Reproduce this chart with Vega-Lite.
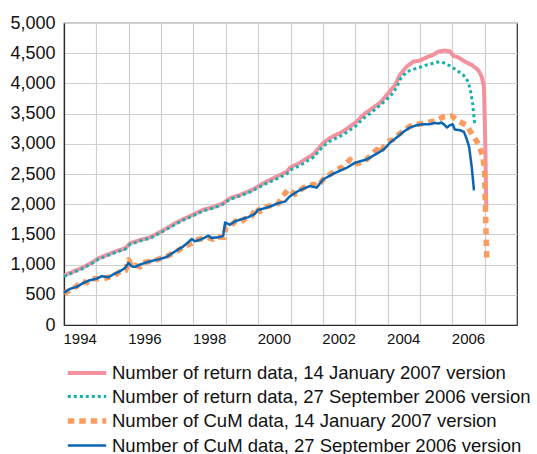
{
  "$schema": "https://vega.github.io/schema/vega-lite/v6.json",
  "width": 453,
  "height": 302,
  "autosize": {"type": "none"},
  "padding": {"left": 64, "top": 23, "right": 20, "bottom": 129},
  "background": "white",
  "config": {
    "font": "Liberation Sans",
    "view": {"stroke": "#2b2b2b", "strokeWidth": 1.2}
  },
  "datasets": {
    "names": [
      {"k": "a", "series": "Number of return data, 14 January 2007 version"},
      {"k": "b", "series": "Number of return data, 27 September 2006 version"},
      {"k": "c", "series": "Number of CuM data, 14 January 2007 version"},
      {"k": "d", "series": "Number of CuM data, 27 September 2006 version"}
    ],
    "pts": [
      {"k":"a","x":1994.0,"y":819},{"k":"a","x":1994.29,"y":885},{"k":"a","x":1994.6,"y":956},{"k":"a","x":1994.91,"y":1049},{"k":"a","x":1995.06,"y":1104},{"k":"a","x":1995.32,"y":1159},{"k":"a","x":1995.63,"y":1225},{"k":"a","x":1995.89,"y":1269},{"k":"a","x":1996.04,"y":1352},{"k":"a","x":1996.35,"y":1407},{"k":"a","x":1996.66,"y":1451},{"k":"a","x":1996.97,"y":1540},{"k":"a","x":1997.17,"y":1600},{"k":"a","x":1997.43,"y":1681},{"k":"a","x":1997.69,"y":1753},{"k":"a","x":1998.0,"y":1830},{"k":"a","x":1998.3,"y":1907},{"k":"a","x":1998.61,"y":1951},{"k":"a","x":1998.92,"y":2016},{"k":"a","x":1999.13,"y":2099},{"k":"a","x":1999.44,"y":2154},{"k":"a","x":1999.75,"y":2220},{"k":"a","x":1999.99,"y":2291},{"k":"a","x":2000.26,"y":2374},{"k":"a","x":2000.57,"y":2456},{"k":"a","x":2000.88,"y":2538},{"k":"a","x":2001.01,"y":2614},{"k":"a","x":2001.29,"y":2686},{"k":"a","x":2001.7,"y":2823},{"k":"a","x":2002.01,"y":3014},{"k":"a","x":2002.22,"y":3096},{"k":"a","x":2002.63,"y":3206},{"k":"a","x":2002.84,"y":3288},{"k":"a","x":2003.02,"y":3354},{"k":"a","x":2003.25,"y":3480},{"k":"a","x":2003.46,"y":3562},{"k":"a","x":2003.77,"y":3680},{"k":"a","x":2003.97,"y":3806},{"k":"a","x":2004.23,"y":3972},{"k":"a","x":2004.38,"y":4139},{"k":"a","x":2004.59,"y":4278},{"k":"a","x":2004.8,"y":4361},{"k":"a","x":2005.0,"y":4378},{"k":"a","x":2005.21,"y":4433},{"k":"a","x":2005.41,"y":4472},{"k":"a","x":2005.57,"y":4528},{"k":"a","x":2005.77,"y":4544},{"k":"a","x":2005.93,"y":4528},{"k":"a","x":2006.03,"y":4456},{"k":"a","x":2006.18,"y":4433},{"k":"a","x":2006.39,"y":4361},{"k":"a","x":2006.6,"y":4306},{"k":"a","x":2006.8,"y":4222},{"k":"a","x":2006.91,"y":4111},{"k":"a","x":2006.98,"y":3944},{"k":"a","x":2007.02,"y":3000},{"k":"a","x":2007.05,"y":1960},
      {"k":"b","x":1994.0,"y":805},{"k":"b","x":1994.29,"y":870},{"k":"b","x":1994.6,"y":940},{"k":"b","x":1994.91,"y":1035},{"k":"b","x":1995.06,"y":1090},{"k":"b","x":1995.32,"y":1145},{"k":"b","x":1995.63,"y":1210},{"k":"b","x":1995.89,"y":1255},{"k":"b","x":1996.04,"y":1335},{"k":"b","x":1996.35,"y":1392},{"k":"b","x":1996.66,"y":1436},{"k":"b","x":1996.97,"y":1522},{"k":"b","x":1997.17,"y":1584},{"k":"b","x":1997.43,"y":1665},{"k":"b","x":1997.69,"y":1737},{"k":"b","x":1998.0,"y":1812},{"k":"b","x":1998.3,"y":1890},{"k":"b","x":1998.61,"y":1935},{"k":"b","x":1998.92,"y":2000},{"k":"b","x":1999.13,"y":2082},{"k":"b","x":1999.44,"y":2137},{"k":"b","x":1999.75,"y":2203},{"k":"b","x":1999.99,"y":2270},{"k":"b","x":2000.26,"y":2345},{"k":"b","x":2000.57,"y":2420},{"k":"b","x":2000.88,"y":2500},{"k":"b","x":2001.01,"y":2570},{"k":"b","x":2001.29,"y":2640},{"k":"b","x":2001.7,"y":2775},{"k":"b","x":2002.01,"y":2960},{"k":"b","x":2002.22,"y":3045},{"k":"b","x":2002.63,"y":3150},{"k":"b","x":2002.84,"y":3230},{"k":"b","x":2003.02,"y":3295},{"k":"b","x":2003.25,"y":3420},{"k":"b","x":2003.46,"y":3500},{"k":"b","x":2003.77,"y":3639},{"k":"b","x":2004.07,"y":3778},{"k":"b","x":2004.28,"y":3930},{"k":"b","x":2004.38,"y":4060},{"k":"b","x":2004.59,"y":4194},{"k":"b","x":2004.8,"y":4233},{"k":"b","x":2005.0,"y":4267},{"k":"b","x":2005.21,"y":4306},{"k":"b","x":2005.41,"y":4333},{"k":"b","x":2005.62,"y":4361},{"k":"b","x":2005.77,"y":4333},{"k":"b","x":2005.93,"y":4289},{"k":"b","x":2006.13,"y":4222},{"k":"b","x":2006.34,"y":4139},{"k":"b","x":2006.49,"y":4028},{"k":"b","x":2006.56,"y":3889},{"k":"b","x":2006.63,"y":3667},{"k":"b","x":2006.67,"y":3444},{"k":"b","x":2006.7,"y":3306},
      {"k":"c","x":1994.0,"y":520},{"k":"c","x":1994.19,"y":580},{"k":"c","x":1994.39,"y":640},{"k":"c","x":1994.55,"y":730},{"k":"c","x":1994.7,"y":700},{"k":"c","x":1994.85,"y":760},{"k":"c","x":1995.0,"y":770},{"k":"c","x":1995.2,"y":760},{"k":"c","x":1995.37,"y":790},{"k":"c","x":1995.5,"y":800},{"k":"c","x":1995.73,"y":880},{"k":"c","x":1995.9,"y":900},{"k":"c","x":1996.0,"y":1080},{"k":"c","x":1996.1,"y":960},{"k":"c","x":1996.2,"y":990},{"k":"c","x":1996.35,"y":960},{"k":"c","x":1996.5,"y":1040},{"k":"c","x":1996.65,"y":1050},{"k":"c","x":1996.8,"y":1060},{"k":"c","x":1997.0,"y":1110},{"k":"c","x":1997.15,"y":1130},{"k":"c","x":1997.35,"y":1180},{"k":"c","x":1997.55,"y":1240},{"k":"c","x":1997.7,"y":1300},{"k":"c","x":1997.85,"y":1330},{"k":"c","x":1998.0,"y":1360},{"k":"c","x":1998.15,"y":1420},{"k":"c","x":1998.3,"y":1430},{"k":"c","x":1998.45,"y":1450},{"k":"c","x":1998.6,"y":1420},{"k":"c","x":1998.75,"y":1460},{"k":"c","x":1998.95,"y":1450},{"k":"c","x":1999.0,"y":1620},{"k":"c","x":1999.15,"y":1640},{"k":"c","x":1999.3,"y":1720},{"k":"c","x":1999.45,"y":1700},{"k":"c","x":1999.6,"y":1760},{"k":"c","x":1999.8,"y":1800},{"k":"c","x":1999.95,"y":1950},{"k":"c","x":2000.05,"y":1880},{"k":"c","x":2000.25,"y":1960},{"k":"c","x":2000.45,"y":1980},{"k":"c","x":2000.62,"y":2010},{"k":"c","x":2000.73,"y":2110},{"k":"c","x":2000.93,"y":2247},{"k":"c","x":2001.14,"y":2164},{"k":"c","x":2001.4,"y":2274},{"k":"c","x":2001.7,"y":2329},{"k":"c","x":2001.86,"y":2301},{"k":"c","x":2002.01,"y":2411},{"k":"c","x":2002.22,"y":2493},{"k":"c","x":2002.48,"y":2586},{"k":"c","x":2002.63,"y":2619},{"k":"c","x":2002.84,"y":2740},{"k":"c","x":2002.94,"y":2658},{"k":"c","x":2003.15,"y":2685},{"k":"c","x":2003.35,"y":2740},{"k":"c","x":2003.66,"y":2904},{"k":"c","x":2003.77,"y":2849},{"k":"c","x":2003.97,"y":3033},{"k":"c","x":2004.18,"y":3071},{"k":"c","x":2004.38,"y":3170},{"k":"c","x":2004.69,"y":3291},{"k":"c","x":2004.95,"y":3324},{"k":"c","x":2005.21,"y":3346},{"k":"c","x":2005.46,"y":3379},{"k":"c","x":2005.72,"y":3445},{"k":"c","x":2005.98,"y":3462},{"k":"c","x":2006.18,"y":3379},{"k":"c","x":2006.44,"y":3308},{"k":"c","x":2006.6,"y":3170},{"k":"c","x":2006.8,"y":3005},{"k":"c","x":2006.95,"y":2786},{"k":"c","x":2007.0,"y":2511},{"k":"c","x":2007.03,"y":1800},{"k":"c","x":2007.07,"y":1040},
      {"k":"d","x":1994.0,"y":535},{"k":"d","x":1994.19,"y":599},{"k":"d","x":1994.39,"y":632},{"k":"d","x":1994.6,"y":698},{"k":"d","x":1994.8,"y":742},{"k":"d","x":1994.99,"y":764},{"k":"d","x":1995.17,"y":808},{"k":"d","x":1995.37,"y":791},{"k":"d","x":1995.58,"y":852},{"k":"d","x":1995.73,"y":890},{"k":"d","x":1995.89,"y":945},{"k":"d","x":1995.99,"y":1027},{"k":"d","x":1996.09,"y":973},{"k":"d","x":1996.19,"y":962},{"k":"d","x":1996.35,"y":1000},{"k":"d","x":1996.56,"y":1038},{"k":"d","x":1996.76,"y":1066},{"k":"d","x":1996.97,"y":1093},{"k":"d","x":1997.17,"y":1126},{"k":"d","x":1997.38,"y":1200},{"k":"d","x":1997.56,"y":1260},{"k":"d","x":1997.69,"y":1302},{"k":"d","x":1997.95,"y":1423},{"k":"d","x":1998.05,"y":1385},{"k":"d","x":1998.26,"y":1423},{"k":"d","x":1998.46,"y":1478},{"k":"d","x":1998.56,"y":1440},{"k":"d","x":1998.82,"y":1456},{"k":"d","x":1998.92,"y":1478},{"k":"d","x":1998.98,"y":1698},{"k":"d","x":1999.13,"y":1659},{"k":"d","x":1999.28,"y":1714},{"k":"d","x":1999.49,"y":1753},{"k":"d","x":1999.7,"y":1786},{"k":"d","x":1999.9,"y":1841},{"k":"d","x":2000.0,"y":1907},{"k":"d","x":2000.21,"y":1934},{"k":"d","x":2000.42,"y":1973},{"k":"d","x":2000.62,"y":2016},{"k":"d","x":2000.83,"y":2044},{"k":"d","x":2000.98,"y":2130},{"k":"d","x":2001.24,"y":2219},{"k":"d","x":2001.6,"y":2301},{"k":"d","x":2001.81,"y":2274},{"k":"d","x":2002.01,"y":2411},{"k":"d","x":2002.32,"y":2504},{"k":"d","x":2002.74,"y":2603},{"k":"d","x":2002.99,"y":2685},{"k":"d","x":2003.35,"y":2740},{"k":"d","x":2003.77,"y":2870},{"k":"d","x":2003.92,"y":2923},{"k":"d","x":2004.07,"y":3016},{"k":"d","x":2004.28,"y":3104},{"k":"d","x":2004.49,"y":3198},{"k":"d","x":2004.69,"y":3269},{"k":"d","x":2004.9,"y":3308},{"k":"d","x":2005.1,"y":3324},{"k":"d","x":2005.31,"y":3324},{"k":"d","x":2005.46,"y":3346},{"k":"d","x":2005.57,"y":3335},{"k":"d","x":2005.67,"y":3352},{"k":"d","x":2005.77,"y":3308},{"k":"d","x":2005.83,"y":3269},{"k":"d","x":2005.93,"y":3308},{"k":"d","x":2006.01,"y":3324},{"k":"d","x":2006.08,"y":3236},{"k":"d","x":2006.24,"y":3225},{"k":"d","x":2006.36,"y":3198},{"k":"d","x":2006.44,"y":3088},{"k":"d","x":2006.52,"y":2951},{"k":"d","x":2006.56,"y":2786},{"k":"d","x":2006.6,"y":2621},{"k":"d","x":2006.64,"y":2401},{"k":"d","x":2006.67,"y":2230}
    ]
  },
  "data": {"name": "pts"},
  "transform": [
    {"lookup": "k", "from": {"data": {"name": "names"}, "key": "k", "fields": ["series"]}}
  ],
  "mark": {"type": "line", "strokeCap": "butt", "strokeJoin": "round"},
  "encoding": {
    "x": {
      "field": "x", "type": "quantitative",
      "scale": {"domain": [1994, 2008], "nice": false, "zero": false},
      "axis": {
        "title": null,
        "values": [1994,1995,1996,1997,1998,1999,2000,2001,2002,2003,2004,2005,2006,2007],
        "labelExpr": "datum.value % 2 == 0 ? format(datum.value, 'd') : ''",
        "labelAlign": "left",
        "labelOffset": -1,
        "labelFontSize": 15,
        "labelColor": "#111",
        "labelPadding": 6,
        "labelFlush": false,
        "labelOverlap": false,
        "ticks": false,
        "domainColor": "#2b2b2b",
        "domainWidth": 1.2,
        "grid": true,
        "gridColor": "#cfcfcf",
        "gridWidth": 1.2
      }
    },
    "y": {
      "field": "y", "type": "quantitative",
      "scale": {"domain": [0, 5000], "nice": false},
      "axis": {
        "title": null,
        "values": [0,500,1000,1500,2000,2500,3000,3500,4000,4500,5000],
        "format": ",d",
        "labelFontSize": 18,
        "labelColor": "#111",
        "labelPadding": 9,
        "ticks": false,
        "domainColor": "#2b2b2b",
        "domainWidth": 1.2,
        "grid": true,
        "gridColor": "#cfcfcf",
        "gridWidth": 1.2
      }
    },
    "color": {
      "field": "series", "type": "nominal",
      "scale": {
        "domain": [
          "Number of return data, 14 January 2007 version",
          "Number of return data, 27 September 2006 version",
          "Number of CuM data, 14 January 2007 version",
          "Number of CuM data, 27 September 2006 version"
        ],
        "range": ["#F4919F", "#14B1AD", "#FA9B5F", "#0A66B2"]
      },
      "legend": {
        "title": null,
        "orient": "none",
        "legendX": 8,
        "legendY": 336,
        "symbolType": "M-1.6,0H1.6",
        "symbolSize": 576,
        "labelFontSize": 18.5,
        "labelColor": "#111",
        "labelOffset": 10,
        "labelLimit": 500,
        "rowPadding": 0
      }
    },
    "strokeDash": {
      "field": "series", "type": "nominal",
      "scale": {
        "domain": [
          "Number of return data, 14 January 2007 version",
          "Number of return data, 27 September 2006 version",
          "Number of CuM data, 14 January 2007 version",
          "Number of CuM data, 27 September 2006 version"
        ],
        "range": [[1, 0], [3, 3], [6.5, 5], [1, 0]]
      },
      "legend": null
    },
    "strokeWidth": {
      "field": "series", "type": "nominal",
      "scale": {
        "type": "ordinal",
        "domain": [
          "Number of return data, 14 January 2007 version",
          "Number of return data, 27 September 2006 version",
          "Number of CuM data, 14 January 2007 version",
          "Number of CuM data, 27 September 2006 version"
        ],
        "range": [4, 3, 5.5, 2.5]
      },
      "legend": null
    }
  }
}
